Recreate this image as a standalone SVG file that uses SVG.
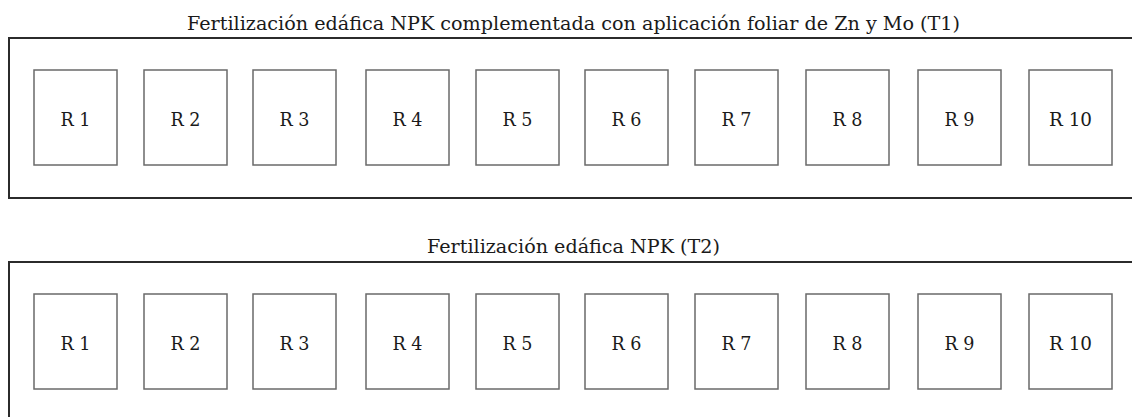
<svg xmlns="http://www.w3.org/2000/svg" width="1132" height="417" viewBox="0 0 1132 417">
<style>
.panel{fill:none;stroke:#2b2b2b;stroke-width:2}
.plot{fill:#fff;stroke:#6a6a6a;stroke-width:1.5}
.title{font-family:"DejaVu Serif","Liberation Serif",serif;font-size:18.5px;fill:#1a1a1a;text-anchor:middle}
.lbl{font-family:"DejaVu Serif","Liberation Serif",serif;font-size:18.5px;fill:#1a1a1a;text-anchor:middle}
</style>
<rect width="1132" height="417" fill="#fff"/>
<g id="T1">
<text class="title" x="573.5" y="30" textLength="773" lengthAdjust="spacingAndGlyphs">Fertilización edáfica NPK complementada con aplicación foliar de Zn y Mo (T1)</text>
<path class="panel" d="M1133 38 H9 V198 H1133"/>
</g>
<g id="T1-plots">
<g id="T1-R1"><rect class="plot" x="34" y="70" width="83" height="95"/><text class="lbl" x="75.5" y="126" textLength="30" lengthAdjust="spacingAndGlyphs">R 1</text></g>
<g id="T1-R2"><rect class="plot" x="144" y="70" width="83" height="95"/><text class="lbl" x="185.5" y="126" textLength="30" lengthAdjust="spacingAndGlyphs">R 2</text></g>
<g id="T1-R3"><rect class="plot" x="253" y="70" width="83" height="95"/><text class="lbl" x="294.5" y="126" textLength="30" lengthAdjust="spacingAndGlyphs">R 3</text></g>
<g id="T1-R4"><rect class="plot" x="366" y="70" width="83" height="95"/><text class="lbl" x="407.5" y="126" textLength="30" lengthAdjust="spacingAndGlyphs">R 4</text></g>
<g id="T1-R5"><rect class="plot" x="476" y="70" width="83" height="95"/><text class="lbl" x="517.5" y="126" textLength="30" lengthAdjust="spacingAndGlyphs">R 5</text></g>
<g id="T1-R6"><rect class="plot" x="585" y="70" width="83" height="95"/><text class="lbl" x="626.5" y="126" textLength="30" lengthAdjust="spacingAndGlyphs">R 6</text></g>
<g id="T1-R7"><rect class="plot" x="695" y="70" width="83" height="95"/><text class="lbl" x="736.5" y="126" textLength="30" lengthAdjust="spacingAndGlyphs">R 7</text></g>
<g id="T1-R8"><rect class="plot" x="806" y="70" width="83" height="95"/><text class="lbl" x="847.5" y="126" textLength="30" lengthAdjust="spacingAndGlyphs">R 8</text></g>
<g id="T1-R9"><rect class="plot" x="918" y="70" width="83" height="95"/><text class="lbl" x="959.5" y="126" textLength="30" lengthAdjust="spacingAndGlyphs">R 9</text></g>
<g id="T1-R10"><rect class="plot" x="1029" y="70" width="83" height="95"/><text class="lbl" x="1070.5" y="126" textLength="43" lengthAdjust="spacingAndGlyphs">R 10</text></g>
</g>
<g id="T2">
<text class="title" x="573.5" y="253" textLength="293" lengthAdjust="spacingAndGlyphs">Fertilización edáfica NPK (T2)</text>
<path class="panel" d="M1133 262 H9 V418"/>
</g>
<g id="T2-plots">
<g id="T2-R1"><rect class="plot" x="34" y="294" width="83" height="95"/><text class="lbl" x="75.5" y="350" textLength="30" lengthAdjust="spacingAndGlyphs">R 1</text></g>
<g id="T2-R2"><rect class="plot" x="144" y="294" width="83" height="95"/><text class="lbl" x="185.5" y="350" textLength="30" lengthAdjust="spacingAndGlyphs">R 2</text></g>
<g id="T2-R3"><rect class="plot" x="253" y="294" width="83" height="95"/><text class="lbl" x="294.5" y="350" textLength="30" lengthAdjust="spacingAndGlyphs">R 3</text></g>
<g id="T2-R4"><rect class="plot" x="366" y="294" width="83" height="95"/><text class="lbl" x="407.5" y="350" textLength="30" lengthAdjust="spacingAndGlyphs">R 4</text></g>
<g id="T2-R5"><rect class="plot" x="476" y="294" width="83" height="95"/><text class="lbl" x="517.5" y="350" textLength="30" lengthAdjust="spacingAndGlyphs">R 5</text></g>
<g id="T2-R6"><rect class="plot" x="585" y="294" width="83" height="95"/><text class="lbl" x="626.5" y="350" textLength="30" lengthAdjust="spacingAndGlyphs">R 6</text></g>
<g id="T2-R7"><rect class="plot" x="695" y="294" width="83" height="95"/><text class="lbl" x="736.5" y="350" textLength="30" lengthAdjust="spacingAndGlyphs">R 7</text></g>
<g id="T2-R8"><rect class="plot" x="806" y="294" width="83" height="95"/><text class="lbl" x="847.5" y="350" textLength="30" lengthAdjust="spacingAndGlyphs">R 8</text></g>
<g id="T2-R9"><rect class="plot" x="918" y="294" width="83" height="95"/><text class="lbl" x="959.5" y="350" textLength="30" lengthAdjust="spacingAndGlyphs">R 9</text></g>
<g id="T2-R10"><rect class="plot" x="1029" y="294" width="83" height="95"/><text class="lbl" x="1070.5" y="350" textLength="43" lengthAdjust="spacingAndGlyphs">R 10</text></g>
</g>
<g id="connectors"/>
</svg>
